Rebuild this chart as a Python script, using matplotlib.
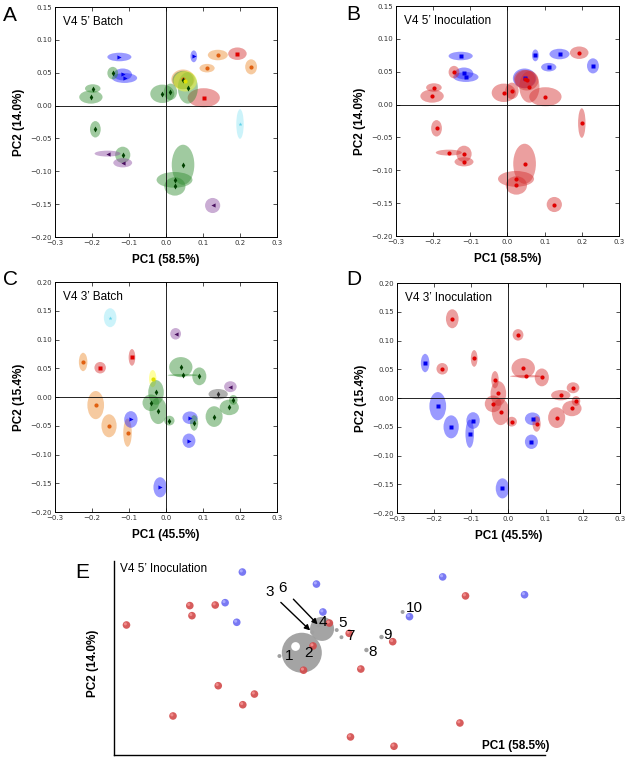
import matplotlib
matplotlib.use("Agg")
import matplotlib.pyplot as plt
from matplotlib.patches import Ellipse
import matplotlib.transforms as mtransforms

# ---- V4 5' data (panels A and B) ----
x5 = [-0.126, -0.117, -0.112, 0.075, 0.140, 0.111, 0.230, 0.046, 0.193, 0.102,
      -0.144, -0.198, -0.203, -0.010, 0.012, 0.046, 0.059, -0.191, -0.117, 0.046,
      0.023, 0.024, -0.158, -0.117, 0.126, 0.200, 0.052]
y5 = [0.074, 0.0475, 0.042, 0.075, 0.077, 0.057, 0.059, 0.040, 0.079, 0.012,
      0.0495, 0.026, 0.013, 0.018, 0.021, 0.039, 0.027, -0.036, -0.075, -0.090,
      -0.113, -0.123, -0.073, -0.087, -0.152, -0.028, 0.037]
w5 = [0.065, 0.050, 0.068, 0.018, 0.054, 0.041, 0.032, 0.063, 0.050, 0.087,
      0.029, 0.042, 0.063, 0.065, 0.036, 0.057, 0.054, 0.029, 0.041, 0.061,
      0.097, 0.057, 0.070, 0.051, 0.041, 0.020, 0.063]
h5 = [0.013, 0.018, 0.015, 0.018, 0.016, 0.013, 0.023, 0.030, 0.019, 0.029,
      0.019, 0.013, 0.020, 0.028, 0.025, 0.028, 0.048, 0.025, 0.025, 0.061,
      0.024, 0.028, 0.009, 0.014, 0.023, 0.045, 0.031]
batch5 = ["blue", "blue", "blue", "blue", "orange", "orange", "orange", "orange", "red", "red",
          "green", "green", "green", "green", "green", "green", "green", "green", "green", "green",
          "green", "green", "purple", "purple", "purple", "cyan", "yellow"]
inoc5 = ["blue"] * 8 + ["red"] * 19

# ---- V4 3' data (panels C and D) ----
x3 = [-0.151, -0.224, -0.178, -0.092, -0.190, -0.154, -0.104, -0.095, -0.016, 0.065,
      0.062, 0.026, 0.174, 0.141, -0.036, 0.040, 0.047, 0.090, -0.027, -0.041,
      -0.021, 0.009, 0.076, 0.130, 0.171, 0.182]
y3 = [0.138, 0.061, 0.051, 0.069, -0.014, -0.050, -0.062, -0.039, -0.157, -0.036,
      -0.076, 0.110, 0.018, 0.005, 0.032, 0.052, 0.038, 0.036, 0.008, -0.010,
      -0.024, -0.041, -0.045, -0.034, -0.018, -0.005]
w3 = [0.034, 0.023, 0.031, 0.018, 0.045, 0.041, 0.023, 0.036, 0.036, 0.041,
      0.035, 0.029, 0.034, 0.052, 0.020, 0.063, 0.085, 0.038, 0.042, 0.045,
      0.047, 0.028, 0.022, 0.046, 0.052, 0.023]
h3 = [0.033, 0.032, 0.020, 0.029, 0.049, 0.040, 0.049, 0.029, 0.035, 0.022,
      0.025, 0.020, 0.019, 0.018, 0.030, 0.035, 0.004, 0.031, 0.043, 0.029,
      0.046, 0.017, 0.027, 0.036, 0.027, 0.017]
batch3 = ["cyan", "orange", "red", "red", "orange", "orange", "orange", "blue", "blue", "blue",
          "blue", "purple", "purple", "grey", "yellow", "green", "green", "green", "green", "green",
          "green", "green", "green", "green", "green", "green"]
inoc3 = ["red", "blue", "red", "red", "blue", "blue", "blue", "blue", "blue", "blue",
         "blue"] + ["red"] * 15

# ---- panel E (projection, arbitrary units) ----
eb_x = [0.298, 0.470, 0.258, 0.485, 0.285, 0.763, 0.953, 0.686]
eb_y = [0.943, 0.881, 0.785, 0.737, 0.684, 0.918, 0.826, 0.713]
er_x = [0.029, 0.137, 0.176, 0.181, 0.235, 0.242, 0.299, 0.326, 0.440, 0.462,
        0.500, 0.546, 0.549, 0.573, 0.647, 0.650, 0.803, 0.816]
er_y = [0.670, 0.201, 0.770, 0.718, 0.773, 0.357, 0.259, 0.314, 0.437, 0.562,
        0.680, 0.627, 0.093, 0.443, 0.584, 0.045, 0.165, 0.820]
traj_x = [0.384, 0.436, 0.460, 0.483, 0.517, 0.475, 0.528, 0.586, 0.621, 0.670]
traj_y = [0.510, 0.527, 0.632, 0.650, 0.644, 0.668, 0.607, 0.541, 0.608, 0.737]
traj_s = [8, 830, 8, 300, 8, 8, 8, 10, 10, 8]
traj_lbl = ["1", "2", "3", "4", "5", "6", "7", "8", "9", "10"]

fill = {"blue": "#2020ff", "orange": "#ec8a2c", "red": "#d42a2a", "green": "#2e8b2e",
        "purple": "#8a4aa0", "cyan": "#8ee6f5", "yellow": "#ffff30", "grey": "#505050"}
mcol = {"blue": "#0000ee", "orange": "#e06010", "red": "#e00000", "green": "#004000",
        "purple": "#4a1060", "cyan": "#60d0e8", "yellow": "#e0e000", "grey": "#303030"}
mark_batch = {"blue": ">", "orange": "o", "red": "s", "green": "d", "purple": "<",
              "cyan": "*", "yellow": "o", "grey": "d"}
mark_inoc = {"blue": "s", "red": "o"}

TF = "DejaVu Sans"
LF = "Liberation Sans"

fig = plt.figure(figsize=(6.28, 7.59), dpi=100)


def pca_panel(rect, xs, ys, ws, hs, groups, markers, title, xlab, ylab, ylim):
    ax = fig.add_axes(rect)
    for x, y, w, h, g in zip(xs, ys, ws, hs, groups):
        ax.add_patch(Ellipse((x, y), w, h, facecolor=fill[g], edgecolor="none", alpha=0.45))
    for x, y, g in zip(xs, ys, groups):
        ax.plot(x, y, markers[g], color=mcol[g], ms=3, mec="none")
    ax.axhline(0, color="k", lw=0.6)
    ax.axvline(0, color="k", lw=0.6)
    ax.set_xlim(-0.3, 0.3)
    ax.set_ylim(*ylim)
    ax.set_xticks([-0.3, -0.2, -0.1, 0.0, 0.1, 0.2, 0.3])
    ax.set_xticklabels(["\u22120.3", "\u22120.2", "\u22120.1", "0.0", "0.1", "0.2", "0.3"])
    yt = [v / 100 for v in range(int(round(ylim[0] * 100)), int(round(ylim[1] * 100)) + 1, 5)]
    ax.set_yticks(yt)
    ax.set_yticklabels([("%.2f" % v).replace("-", "\u2212") for v in yt])
    ax.tick_params(direction="in", length=3, width=0.6, labelsize=5, pad=2,
                   top=True, right=True, colors="#333333")
    for lab in ax.get_xticklabels() + ax.get_yticklabels():
        lab.set_family(TF)
    for s in ax.spines.values():
        s.set_linewidth(0.7)
    ax.text(0.035, 0.935, title, transform=ax.transAxes, fontsize=8.5, family=LF,
            va="center", ha="left")
    ax.set_xlabel(xlab, fontsize=8.5, fontweight="bold", family=LF)
    ax.set_ylabel(ylab, fontsize=8.5, fontweight="bold", family=LF)
    ax.xaxis.set_label_coords(0.5, -0.075)
    ax.yaxis.set_label_coords(-0.135, 0.5)
    return ax


pca_panel([0.0876, 0.6877, 0.3535, 0.303], x5, y5, w5, h5, batch5, mark_batch,
          "V4 5\u2019 Batch", "PC1 (58.5%)", "PC2 (14.0%)", (-0.20, 0.15))
pca_panel([0.6306, 0.689, 0.355, 0.303], x5, y5, w5, h5, inoc5, mark_inoc,
          "V4 5\u2019 Inoculation", "PC1 (58.5%)", "PC2 (14.0%)", (-0.20, 0.15))
pca_panel([0.0876, 0.3254, 0.3535, 0.303], x3, y3, w3, h3, batch3, mark_batch,
          "V4 3\u2019 Batch", "PC1 (45.5%)", "PC2 (15.4%)", (-0.20, 0.20))
pca_panel([0.632, 0.324, 0.355, 0.303], x3, y3, w3, h3, inoc3, mark_inoc,
          "V4 3\u2019 Inoculation", "PC1 (45.5%)", "PC2 (15.4%)", (-0.20, 0.20))

# ---- panel E ----
axe = fig.add_axes([0.1815, 0.0053, 0.686, 0.2556])
axe.set_xlim(0, 1)
axe.set_ylim(0, 1)
for side in ["top", "right"]:
    axe.spines[side].set_visible(False)
axe.spines["left"].set_linewidth(1.0)
axe.spines["bottom"].set_linewidth(1.0)
axe.set_xticks([])
axe.set_yticks([])

hl = mtransforms.offset_copy(axe.transData, fig=fig, x=-0.8, y=0.8, units="points")
hl_big = mtransforms.offset_copy(axe.transData, fig=fig, x=-4.5, y=4.5, units="points")

big = [i for i, s in enumerate(traj_s) if s > 50]
small = [i for i, s in enumerate(traj_s) if s <= 50]

axe.scatter([traj_x[i] for i in big], [traj_y[i] for i in big], s=[traj_s[i] for i in big],
            color="#9a9a9a", alpha=0.9, edgecolors="none", zorder=2)
axe.scatter([traj_x[1]], [traj_y[1]], s=40, color="white", edgecolors="none", zorder=2.1,
            transform=hl_big)

axe.scatter(er_x, er_y, s=30, color="#d24a4a", edgecolors="none", alpha=0.9, zorder=3)
axe.scatter(er_x, er_y, s=5, color="#f08a8a", edgecolors="none", zorder=3.1, transform=hl)
axe.scatter(eb_x, eb_y, s=30, color="#6a6af2", edgecolors="none", alpha=0.9, zorder=3)
axe.scatter(eb_x, eb_y, s=5, color="#a8a8ff", edgecolors="none", zorder=3.1, transform=hl)

axe.scatter([traj_x[i] for i in small], [traj_y[i] for i in small],
            s=[traj_s[i] for i in small], color="#a0a0a0", edgecolors="none", zorder=4)

offs = {"1": (6.8, 0), "2": (4.5, 0), "4": (0.4, 5.3), "5": (4.3, 4.8), "7": (6.5, 0.9),
        "8": (4.3, -1.2), "9": (4.0, 1.4), "10": (8.4, 2.7)}
for x, y, t in zip(traj_x, traj_y, traj_lbl):
    if t in offs:
        axe.annotate(t, (x, y), xytext=offs[t], textcoords="offset points", fontsize=11,
                     family=LF, ha="center", va="center", zorder=5)
axe.annotate("3", (traj_x[2], traj_y[2]), xytext=(-30.5, 29.2), textcoords="offset points",
             fontsize=11, family=LF, ha="center", va="center", zorder=5,
             arrowprops=dict(arrowstyle="-|>", color="k", lw=1.0, shrinkA=4, shrinkB=2,
                             mutation_scale=8))
axe.annotate("6", (traj_x[5], traj_y[5]), xytext=(-26, 27), textcoords="offset points",
             fontsize=11, family=LF, ha="center", va="center", zorder=5,
             arrowprops=dict(arrowstyle="-|>", color="k", lw=1.0, shrinkA=4, shrinkB=1,
                             mutation_scale=8))

axe.text(0.014, 0.99, "V4 5\u2019 Inoculation", transform=axe.transAxes, fontsize=8.5,
         family=LF, va="top", ha="left")
axe.text(1.012, 0.045, "PC1 (58.5%)", transform=axe.transAxes, fontsize=8.5,
         fontweight="bold", family=LF, va="center", ha="right")
axe.set_ylabel("PC2 (14.0%)", fontsize=8.5, fontweight="bold", family=LF)
axe.yaxis.set_label_coords(-0.035, 0.47)

# panel letters
for lbl, px, py in [("A", 3, 6), ("B", 346, 5), ("C", 3, 270), ("D", 346, 270), ("E", 75, 563)]:
    fig.text(px / 628, 1 - py / 759, lbl, fontsize=15, family=LF, va="top", ha="left")

fig.savefig("out.png", dpi=100)
